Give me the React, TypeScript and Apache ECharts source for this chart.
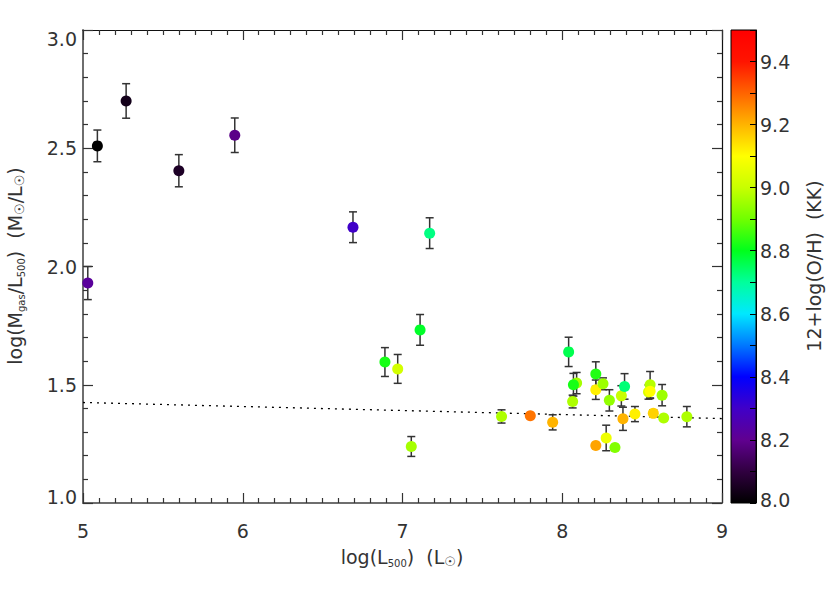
import React, { useEffect, useRef } from "react";
import * as echarts from "echarts";

// log(L500)
const xVals = [5.03, 5.09, 5.27, 5.60, 5.95, 6.69, 7.17, 7.11, 6.89, 6.97, 7.055,
  7.62, 7.80, 7.94, 8.04, 8.065, 8.09, 8.07, 8.21, 8.21, 8.255, 8.21, 8.275, 8.33,
  8.295, 8.37, 8.39, 8.38, 8.455, 8.55, 8.54, 8.55, 8.57, 8.625, 8.635, 8.78];
// log(Mgas/L500)
const yVals = [1.93, 2.51, 2.70, 2.405, 2.555, 2.166, 2.141, 1.732, 1.596, 1.567, 1.239,
  1.366, 1.369, 1.341, 1.639, 1.429, 1.507, 1.500, 1.545, 1.479, 1.504, 1.243, 1.275, 1.235,
  1.434, 1.453, 1.493, 1.356, 1.376, 1.500, 1.469, 1.472, 1.379, 1.456, 1.359, 1.365];
// error bar half-lengths
const yErrs = [0.07, 0.067, 0.073, 0.068, 0.073, 0.065, 0.065, 0.065, 0.061, 0.061, 0.042,
  0.028, 0.008, 0.032, 0.062, 0.027, 0.045, 0.048, 0.052, 0.041, 0.025, 0.008, 0.054, 0.008,
  0.045, 0.043, 0.054, 0.049, 0.032, 0.056, 0.03, 0.03, 0.015, 0.045, 0.01, 0.043];
// 12+log(O/H)
const ohVals = [8.22, 8.00, 8.04, 8.06, 8.19, 8.30, 8.72, 8.79, 8.82, 9.02, 8.96,
  8.97, 9.28, 9.20, 8.76, 8.97, 8.96, 8.82, 8.83, 9.12, 8.95, 9.22, 9.07, 8.92,
  8.94, 9.00, 8.73, 9.20, 9.12, 8.98, 9.03, 9.10, 9.16, 8.95, 8.97, 8.97];

// dotted fit line
const fitX = [5, 9];
const fitY = [1.425, 1.357];

// axis ticks
const xTicks = [5, 6, 7, 8, 9];
const yTicks = [1.0, 1.5, 2.0, 2.5, 3.0];
const cbarTicks = [8.0, 8.2, 8.4, 8.6, 8.8, 9.0, 9.2, 9.4];

// colour table (8.0 -> 9.5)
const rainbow = ["#000000", "#300040", "#600090", "#4000c8", "#0000ff", "#0078ff", "#00e8ff",
  "#00ff9c", "#00ff1c", "#70ff00", "#c8ff00", "#ffff00", "#ffb400", "#ff6400", "#ff1400", "#ff0000"];

const FONT = "'DejaVu Sans', 'Liberation Sans', sans-serif";
const TXT = "#333";

export default function App() {
  const ref = useRef<HTMLDivElement>(null);
  useEffect(() => {
    if (!ref.current) return;
    const chart = echarts.init(ref.current, undefined, { renderer: "svg" });
    const pts = xVals.map((x, i) => [x, yVals[i], ohVals[i]]);
    const errs = xVals.map((x, i) => [x, yVals[i], yErrs[i]]);
    const axisLabelStyle = { fontFamily: FONT, fontSize: 19, color: TXT };
    const gradStops = rainbow.map((c, i) => ({ offset: i / (rainbow.length - 1), color: c }));
    const sub = { fontFamily: FONT, fontSize: 10, lineHeight: 8, verticalAlign: "bottom", fill: TXT, color: TXT };
    const sun = { fontFamily: FONT, fontSize: 13, lineHeight: 10, verticalAlign: "bottom", fill: TXT, color: TXT };
    const norm = { fontFamily: FONT, fontSize: 19, lineHeight: 22, fill: TXT, color: TXT };
    chart.setOption({
      animation: false,
      backgroundColor: "#fff",
      grid: [
        { left: 83, top: 30, width: 639, height: 473 },
        {
          left: 731, top: 30, width: 25, height: 473, show: true,
          backgroundColor: { type: "linear", x: 0, y: 1, x2: 0, y2: 0, colorStops: gradStops },
          borderColor: "#000", borderWidth: 1,
        },
      ],
      xAxis: [
        {
          gridIndex: 0, type: "value", min: xTicks[0], max: xTicks[xTicks.length - 1], interval: 1,
          position: "bottom",
          axisLine: { show: true, onZero: false, lineStyle: { color: "#6e6e6e", width: 2 } },
          axisTick: { show: true, inside: true, length: 10, lineStyle: { color: "#333", width: 1.2 } },
          minorTick: { show: true, splitNumber: 10, length: 5, lineStyle: { color: "#333", width: 1.2 } },
          splitLine: { show: false },
          axisLabel: { ...axisLabelStyle, margin: 18 },
        },
        {
          gridIndex: 0, type: "value", min: xTicks[0], max: xTicks[xTicks.length - 1], interval: 1,
          position: "top",
          axisLine: { show: true, onZero: false, lineStyle: { color: "#111", width: 1.2 } },
          axisTick: { show: true, inside: true, length: 10, lineStyle: { color: "#333", width: 1.2 } },
          minorTick: { show: true, splitNumber: 10, length: 5, lineStyle: { color: "#333", width: 1.2 } },
          splitLine: { show: false },
          axisLabel: { show: false },
        },
        { gridIndex: 1, type: "value", min: 0, max: 1, show: false },
      ],
      yAxis: [
        {
          gridIndex: 0, type: "value", min: yTicks[0], max: yTicks[yTicks.length - 1], interval: 0.5,
          position: "left",
          axisLine: { show: true, onZero: false, lineStyle: { color: "#6e6e6e", width: 2 } },
          axisTick: { show: true, inside: true, length: 10, lineStyle: { color: "#333", width: 1.2 } },
          minorTick: { show: true, splitNumber: 5, length: 5, lineStyle: { color: "#333", width: 1.2 } },
          splitLine: { show: false },
          axisLabel: {
            ...axisLabelStyle, margin: 6,
            formatter: (v: number) => {
              const s = v.toFixed(1);
              if (Math.abs(v - 3) < 1e-6) return "{t|" + s + "}";
              if (Math.abs(v - 1) < 1e-6) return "{b|" + s + "}";
              return s;
            },
            rich: {
              t: { ...axisLabelStyle, padding: [18, 0, 0, 0] },
              b: { ...axisLabelStyle, padding: [0, 0, 12, 0] },
            },
          },
        },
        {
          gridIndex: 0, type: "value", min: yTicks[0], max: yTicks[yTicks.length - 1], interval: 0.5,
          position: "right",
          axisLine: { show: true, onZero: false, lineStyle: { color: "#111", width: 1.2 } },
          axisTick: { show: true, inside: true, length: 10, lineStyle: { color: "#333", width: 1.2 } },
          minorTick: { show: true, splitNumber: 5, length: 5, lineStyle: { color: "#333", width: 1.2 } },
          splitLine: { show: false },
          axisLabel: { show: false },
        },
        {
          gridIndex: 1, type: "value", min: cbarTicks[0], max: 9.5, interval: 0.2,
          position: "right",
          axisLine: { show: true, onZero: false, lineStyle: { color: "#000", width: 1 } },
          axisTick: { show: true, inside: true, length: 6, lineStyle: { color: "#000", width: 1 } },
          minorTick: { show: true, splitNumber: 2, length: 6, lineStyle: { color: "#000", width: 1 } },
          splitLine: { show: false },
          axisLabel: {
            ...axisLabelStyle, margin: 4, showMaxLabel: false,
            formatter: (v: number) => (Math.abs(v - 8) < 1e-6 ? "{b|8.0}" : v.toFixed(1)),
            rich: { b: { ...axisLabelStyle, padding: [0, 0, 6, 0] } },
          },
        },
      ],
      visualMap: {
        type: "continuous", show: false, min: 8.0, max: 9.5, dimension: 2, seriesIndex: 2,
        inRange: { color: rainbow },
      },
      series: [
        {
          type: "line", xAxisIndex: 0, yAxisIndex: 0,
          data: fitX.map((x, i) => [x, fitY[i]]),
          showSymbol: false, symbol: "none",
          lineStyle: { color: "#000", width: 1.3, type: [2, 5] },
          z: 1,
        },
        {
          type: "custom", xAxisIndex: 0, yAxisIndex: 0, data: errs, z: 2,
          encode: { x: 0, y: 1 },
          renderItem: (params: any, api: any) => {
            const x = api.value(0), y = api.value(1), e = api.value(2);
            const top = api.coord([x, y + e]);
            const bot = api.coord([x, y - e]);
            const w = 4;
            const st = { stroke: "#333", lineWidth: 1.5 };
            return {
              type: "group",
              children: [
                { type: "line", shape: { x1: top[0], y1: top[1], x2: bot[0], y2: bot[1] }, style: st },
                { type: "line", shape: { x1: top[0] - w, y1: top[1], x2: top[0] + w, y2: top[1] }, style: st },
                { type: "line", shape: { x1: bot[0] - w, y1: bot[1], x2: bot[0] + w, y2: bot[1] }, style: st },
              ],
            };
          },
        },
        {
          type: "scatter", xAxisIndex: 0, yAxisIndex: 0, data: pts, symbol: "circle", symbolSize: 11,
          itemStyle: { opacity: 1 }, z: 3,
        },
      ],
      graphic: [
        {
          type: "text", x: 15, y: 266, rotation: Math.PI / 2,
          style: {
            text: "{n|log(M}{s|gas}{n|/L}{s|500}{n|)  (M}{o|☉}{n|/L}{o|☉}{n|)}",
            rich: { n: norm, s: sub, o: sun },
            align: "center", verticalAlign: "middle",
          },
        },
        {
          type: "text", x: 402, y: 557,
          style: {
            text: "{n|log(L}{s|500}{n|)  (L}{o|☉}{n|)}",
            rich: { n: norm, s: sub, o: sun },
            align: "center", verticalAlign: "middle",
          },
        },
        {
          type: "text", x: 814, y: 266, rotation: Math.PI / 2,
          style: {
            text: "12+log(O/H)  (KK)",
            font: "19px " + FONT, fill: TXT,
            align: "center", verticalAlign: "middle",
          },
        },
      ],
    });
    return () => chart.dispose();
  }, []);
  return <div ref={ref} style={{ position: "fixed", left: 0, top: 0, width: 830, height: 593 }} />;
}
